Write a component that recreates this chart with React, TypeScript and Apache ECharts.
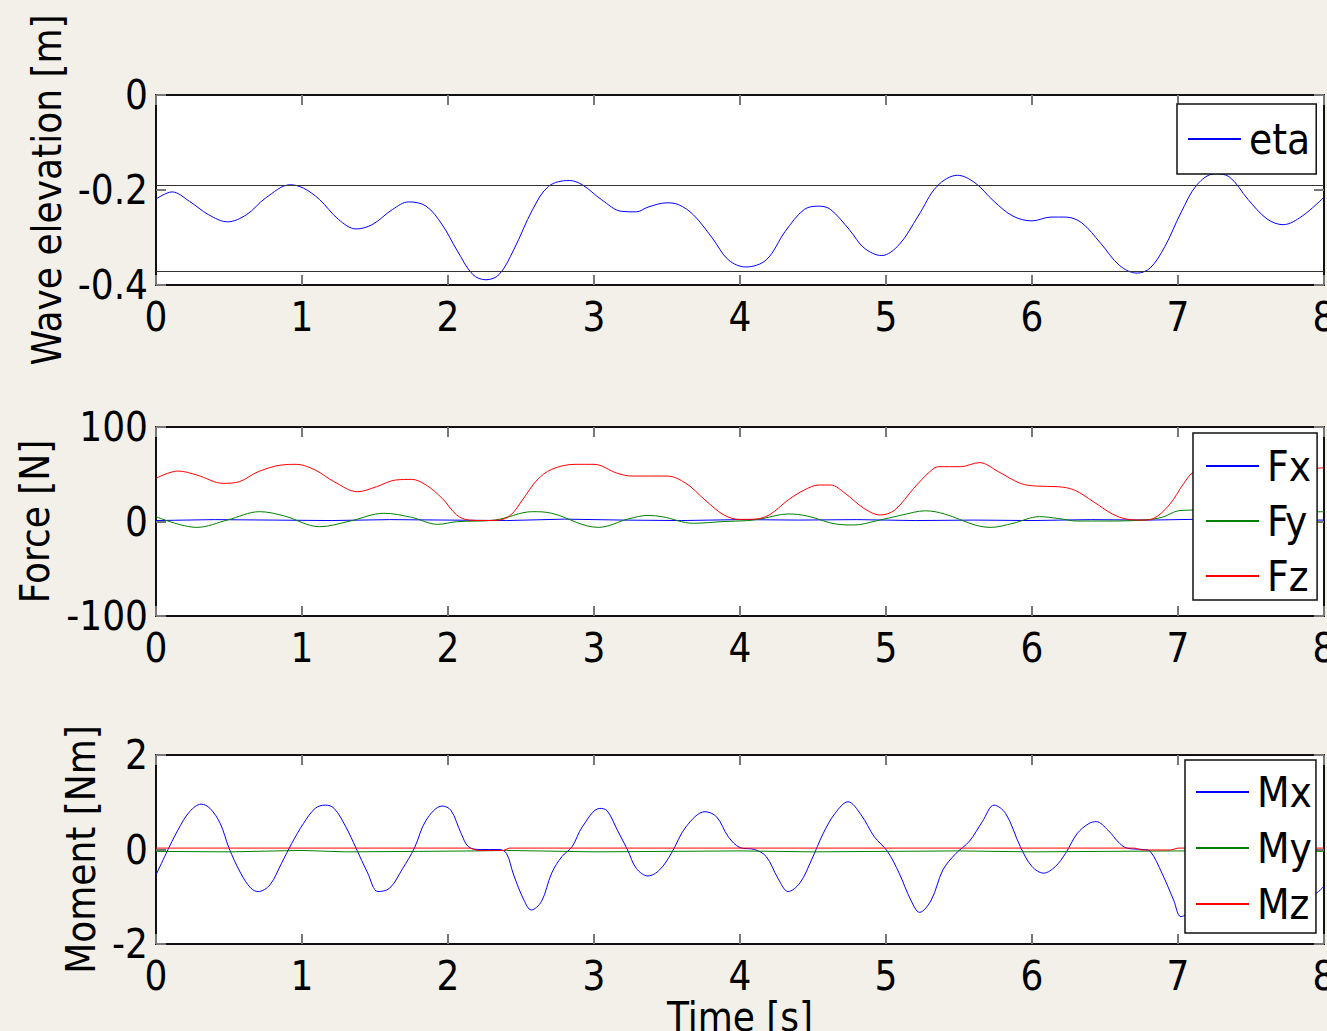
import React, { useEffect, useRef } from 'react';
import * as echarts from 'echarts';

const FONT = "'DejaVu Sans Condensed', 'Liberation Sans Narrow', 'Arial Narrow', sans-serif";
const BG = '#f3f0ea';

// ---------- Axis ranges ----------
const timeAxis = { min: 0, max: 8, interval: 1 };
const etaAxis = { min: -0.4, max: 0, interval: 0.2 };
const forceAxis = { min: -100, max: 100, interval: 100 };
const momentAxis = { min: -2, max: 2, interval: 2 };

// ---------- Wave elevation ----------
const etaTime = [0.00, 0.11, 0.23, 0.36, 0.49, 0.62, 0.75, 0.92, 1.01, 1.12, 1.25, 1.37, 1.48, 1.62, 1.73, 1.85, 1.96, 2.06, 2.17, 2.26, 2.35, 2.45, 2.58, 2.69, 2.83, 2.92, 3.05, 3.19, 3.29, 3.37, 3.50, 3.58, 3.68, 3.81, 3.92, 4.04, 4.18, 4.31, 4.44, 4.54, 4.62, 4.75, 4.85, 4.97, 5.09, 5.22, 5.35, 5.49, 5.61, 5.74, 5.87, 6.00, 6.13, 6.23, 6.34, 6.47, 6.60, 6.72, 6.81, 6.91, 7.02, 7.13, 7.25, 7.35, 7.48, 7.61, 7.72, 7.85, 8.00];
const etaValues = [-0.219, -0.204, -0.224, -0.252, -0.267, -0.252, -0.217, -0.189, -0.196, -0.220, -0.262, -0.282, -0.273, -0.241, -0.225, -0.234, -0.273, -0.326, -0.378, -0.389, -0.378, -0.326, -0.241, -0.192, -0.180, -0.189, -0.220, -0.245, -0.246, -0.236, -0.227, -0.231, -0.252, -0.301, -0.347, -0.362, -0.347, -0.287, -0.241, -0.234, -0.241, -0.284, -0.322, -0.338, -0.315, -0.255, -0.192, -0.169, -0.185, -0.224, -0.255, -0.265, -0.257, -0.257, -0.269, -0.312, -0.359, -0.375, -0.364, -0.319, -0.248, -0.189, -0.166, -0.172, -0.220, -0.261, -0.273, -0.255, -0.215];
const etaRefLevels = [-0.1937, -0.3747];

// ---------- Forces ----------
const fxTime = [0, 0.4, 0.8, 1.2, 1.6, 2.0, 2.4, 2.8, 3.2, 3.6, 4.0, 4.4, 4.8, 5.2, 5.6, 6.0, 6.4, 6.8, 7.2, 7.6, 8.0];
const fxValues = [1.0, 2.0, 1.5, 1.0, 2.0, 1.5, 1.0, 2.5, 1.5, 1.0, 2.0, 1.5, 2.0, 1.0, 1.5, 1.0, 2.0, 1.5, 2.5, 1.5, 1.5];

const fyTime = [0.00, 0.28, 0.49, 0.71, 0.88, 1.12, 1.33, 1.56, 1.75, 1.93, 2.06, 2.32, 2.58, 2.71, 3.03, 3.24, 3.37, 3.47, 3.68, 3.89, 4.05, 4.15, 4.33, 4.46, 4.67, 4.78, 4.93, 5.11, 5.27, 5.40, 5.61, 5.72, 5.87, 6.05, 6.18, 6.31, 6.52, 6.76, 6.89, 7.00, 7.07, 7.30, 7.60, 7.90, 8.00];
const fyValues = [5.1, -6.2, 1.6, 10.4, 5.8, -5.5, 0.5, 8.7, 4.4, -3.0, -0.2, 1.5, 10.4, 8.7, -6.2, 2.9, 6.4, 5.0, -1.9, 0.0, 0.9, 3.0, 8.0, 5.8, -3.0, -3.7, 0.5, 6.9, 11.3, 8.0, -3.7, -6.2, -1.9, 5.1, 3.2, 0.5, 0.5, 1.5, 4.4, 11.3, 12.0, 13.0, 8.0, 10.0, 10.4];

const fzTime = [0.00, 0.15, 0.28, 0.46, 0.57, 0.70, 0.86, 0.96, 1.09, 1.22, 1.38, 1.51, 1.64, 1.75, 1.85, 1.96, 2.06, 2.14, 2.24, 2.35, 2.43, 2.51, 2.61, 2.71, 2.87, 3.00, 3.16, 3.26, 3.50, 3.63, 3.76, 3.89, 4.00, 4.10, 4.20, 4.33, 4.44, 4.54, 4.62, 4.72, 4.85, 4.96, 5.06, 5.19, 5.30, 5.36, 5.51, 5.64, 5.77, 5.92, 6.03, 6.18, 6.29, 6.42, 6.55, 6.65, 6.76, 6.83, 6.94, 7.04, 7.11, 7.25, 7.45, 7.65, 7.85, 8.00];
const fzValues = [45.7, 53.4, 49.2, 40.4, 42.1, 52.7, 59.8, 60.5, 54.5, 42.1, 31.5, 36.8, 43.9, 44.6, 38.6, 24.5, 6.9, 1.6, 1.0, 1.5, 6.9, 22.8, 43.9, 55.2, 60.5, 60.5, 51.0, 48.1, 48.1, 40.4, 22.8, 6.9, 2.2, 2.5, 6.9, 22.8, 33.3, 38.6, 38.6, 29.8, 13.8, 6.9, 12.2, 35.1, 52.7, 58.0, 58.0, 62.3, 52.7, 40.4, 37.5, 36.8, 33.3, 21.0, 8.0, 2.5, 1.5, 3.0, 17.5, 40.4, 52.7, 59.0, 57.0, 54.0, 55.0, 57.0];

// ---------- Moments ----------
const mxTime = [0.00, 0.07, 0.15, 0.23, 0.31, 0.37, 0.44, 0.50, 0.58, 0.65, 0.70, 0.78, 0.86, 0.93, 1.01, 1.09, 1.16, 1.22, 1.30, 1.37, 1.45, 1.52, 1.60, 1.69, 1.77, 1.85, 1.96, 2.02, 2.09, 2.14, 2.22, 2.35, 2.40, 2.45, 2.52, 2.57, 2.64, 2.71, 2.78, 2.85, 2.92, 3.04, 3.09, 3.16, 3.23, 3.29, 3.37, 3.45, 3.53, 3.63, 3.76, 3.84, 3.92, 4.00, 4.10, 4.18, 4.26, 4.33, 4.41, 4.49, 4.57, 4.65, 4.74, 4.83, 4.92, 5.01, 5.09, 5.17, 5.23, 5.31, 5.39, 5.48, 5.57, 5.66, 5.74, 5.82, 5.92, 6.00, 6.08, 6.16, 6.23, 6.31, 6.39, 6.44, 6.52, 6.60, 6.65, 6.76, 6.81, 6.89, 6.97, 7.02, 7.10, 7.20, 7.30, 7.40, 7.50, 7.60, 7.70, 7.80, 7.90, 8.00];
const mxValues = [-0.54, -0.08, 0.41, 0.80, 0.96, 0.87, 0.55, 0.03, -0.50, -0.82, -0.89, -0.75, -0.29, 0.13, 0.55, 0.87, 0.94, 0.87, 0.48, 0.03, -0.50, -0.89, -0.82, -0.40, 0.03, 0.62, 0.92, 0.83, 0.34, 0.06, 0.00, 0.00, -0.08, -0.54, -1.07, -1.28, -1.10, -0.50, -0.15, 0.06, 0.48, 0.87, 0.82, 0.41, -0.01, -0.40, -0.56, -0.43, -0.08, 0.48, 0.80, 0.69, 0.27, 0.04, 0.00, -0.15, -0.61, -0.89, -0.71, -0.22, 0.34, 0.76, 1.01, 0.73, 0.27, -0.04, -0.50, -1.07, -1.33, -1.07, -0.43, -0.08, 0.17, 0.59, 0.94, 0.76, 0.06, -0.36, -0.50, -0.36, -0.08, 0.34, 0.55, 0.59, 0.41, 0.13, 0.03, 0.00, -0.04, -0.50, -1.07, -1.42, -1.25, -0.70, 0.00, 0.60, 0.85, 0.50, -0.10, -0.70, -1.00, -0.78];

const myTime = [0, 0.5, 1.0, 1.3, 1.8, 2.2, 2.4, 3.0, 3.5, 4.0, 4.5, 5.0, 5.5, 6.0, 6.5, 7.0, 7.5, 8.0];
const myValues = [-0.04, -0.05, -0.02, -0.05, -0.04, -0.03, -0.02, -0.05, -0.04, -0.03, -0.05, -0.04, -0.03, -0.05, -0.04, -0.03, -0.04, -0.04];

const mzTime = [0, 2.15, 2.2, 2.38, 2.42, 6.7, 6.75, 6.95, 7.0, 8];
const mzValues = [0.03, 0.03, -0.02, -0.02, 0.03, 0.03, -0.01, -0.01, 0.03, 0.03];

const zip = (t: number[], v: number[]) => t.map((x, i) => [x, v[i]]);

const TICK = { show: true, inside: true, length: 10, lineStyle: { color: '#777', width: 2 } };
const AXIS_LINE = { show: false, onZero: false };
const LABEL = { fontSize: 40, color: '#000', fontFamily: FONT };
const NAME = { fontSize: 40, color: '#000', fontFamily: FONT };
const LEGEND_TEXT = { fontSize: 42, color: '#000', fontFamily: FONT };

function buildOption() {
  const grids = [
    { left: 156, top: 95, right: 3, height: 190 },
    { left: 156, top: 427, right: 3, height: 189 },
    { left: 156, top: 755, right: 3, height: 189 },
  ].map((g) => ({
    ...g, show: true, containLabel: false, outerBoundsMode: 'none',
    backgroundColor: '#ffffff', borderColor: '#111', borderWidth: 2,
  }));

  const yRanges = [etaAxis, forceAxis, momentAxis];
  const yNames = ['Wave elevation [m]', 'Force [N]', 'Moment [Nm]'];
  const yGaps = [74, 81, 54];

  const xAxis: any[] = [];
  const yAxis: any[] = [];
  for (let g = 0; g < 3; g++) {
    xAxis.push({
      type: 'value', gridIndex: g, position: 'bottom', ...timeAxis,
      axisLine: AXIS_LINE, axisTick: TICK, splitLine: { show: false },
      axisLabel: { ...LABEL, margin: 12 },
      name: g === 2 ? 'Time [s]' : '', nameLocation: 'middle', nameGap: 49,
      nameTextStyle: { ...NAME },
    });
    xAxis.push({
      type: 'value', gridIndex: g, position: 'top', ...timeAxis,
      axisLine: AXIS_LINE, axisTick: TICK, splitLine: { show: false },
      axisLabel: { show: false },
    });
    yAxis.push({
      type: 'value', gridIndex: g, position: 'left', ...yRanges[g],
      axisLine: AXIS_LINE, axisTick: TICK, splitLine: { show: false },
      axisLabel: { ...LABEL, margin: 8 },
      name: yNames[g], nameLocation: 'middle', nameGap: yGaps[g], nameRotate: 90,
      nameTextStyle: { ...NAME },
    });
    yAxis.push({
      type: 'value', gridIndex: g, position: 'right', ...yRanges[g],
      axisLine: AXIS_LINE, axisTick: TICK, splitLine: { show: false },
      axisLabel: { show: false },
    });
  }

  const line = (name: string, g: number, data: number[][], color: string, smooth: number | boolean, extra: any = {}) => ({
    name, type: 'line', xAxisIndex: 2 * g, yAxisIndex: 2 * g, data, smooth,
    symbol: 'none', showSymbol: false,
    lineStyle: { color, width: 1 }, itemStyle: { color },
    ...extra,
  });

  const series = [
    line('eta', 0, zip(etaTime, etaValues), '#0000ff', 0.35, {
      markLine: {
        silent: true, symbol: ['none', 'none'], label: { show: false },
        lineStyle: { color: '#333', width: 1, type: 'solid' },
        data: etaRefLevels.map((v) => ({ yAxis: v })),
      },
    }),
    line('Fx', 1, zip(fxTime, fxValues), '#0000ff', false),
    line('Fy', 1, zip(fyTime, fyValues), '#008000', 0.35),
    line('Fz', 1, zip(fzTime, fzValues), '#ff0000', 0.35),
    line('Mx', 2, zip(mxTime, mxValues), '#0000ff', 0.35),
    line('My', 2, zip(myTime, myValues), '#008000', false),
    line('Mz', 2, zip(mzTime, mzValues), '#ff0000', false),
  ];

  const legendBase = {
    orient: 'vertical', itemWidth: 53, itemHeight: 14, backgroundColor: '#ffffff',
    borderColor: '#111', borderWidth: 1.5, borderRadius: 0, selectedMode: false,
    itemStyle: { opacity: 0 },
    textStyle: { ...LEGEND_TEXT, padding: [0, 0, 0, 3] },
  };
  const legend = [
    { ...legendBase, left: 1177, top: 104, padding: [14, 6, 14, 10], itemGap: 12, data: ['eta'] },
    { ...legendBase, left: 1193, top: 433, padding: [12, 6, 3, 12], itemGap: 13, data: ['Fx', 'Fy', 'Fz'] },
    { ...legendBase, left: 1185, top: 760, padding: [11, 4, 8, 10], itemGap: 14, data: ['Mx', 'My', 'Mz'] },
  ];

  return {
    animation: false,
    backgroundColor: BG,
    textStyle: { fontFamily: FONT },
    grid: grids,
    xAxis,
    yAxis,
    legend,
    series,
  };
}

export default function App() {
  const ref = useRef<HTMLDivElement>(null);
  useEffect(() => {
    document.body.style.margin = '0';
    const chart = echarts.init(ref.current!, undefined, { renderer: 'svg' });
    chart.setOption(buildOption() as any);
    return () => chart.dispose();
  }, []);
  return (
    <div
      ref={ref}
      style={{ position: 'absolute', left: 0, top: 0, width: 1327, height: 1031, background: BG }}
    />
  );
}
